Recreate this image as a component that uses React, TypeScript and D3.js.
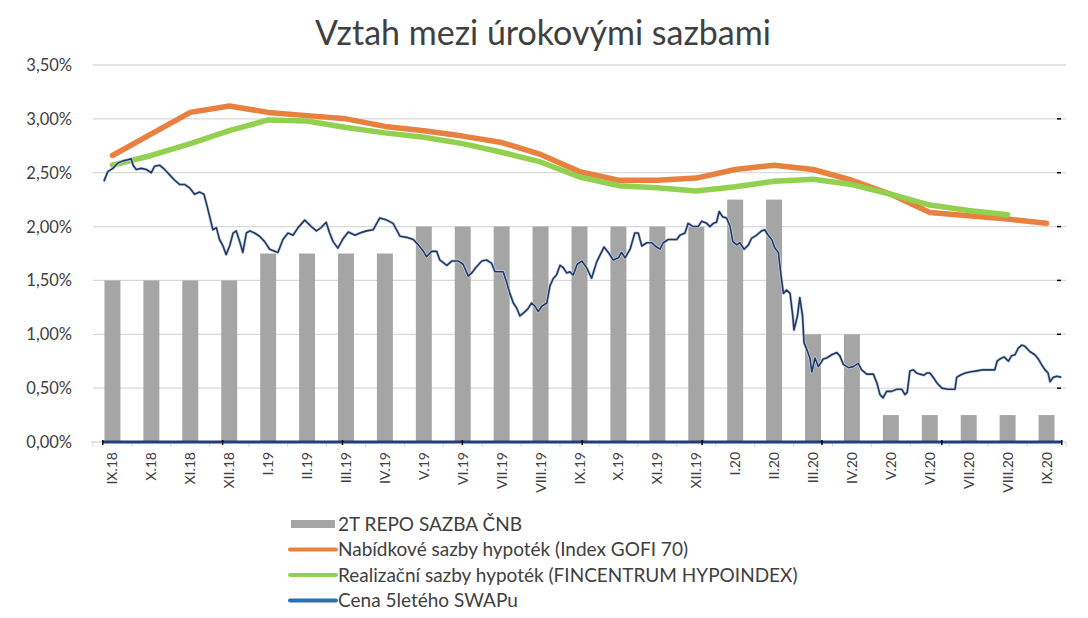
import React from "react";
import * as d3 from "d3";

const categories = ["IX.18","X.18","XI.18","XII.18","I.19","II.19","III.19","IV.19","V.19","VI.19","VII.19","VIII.19","IX.19","X.19","XI.19","XII.19","I.20","II.20","III.20","IV.20","V.20","VI.20","VII.20","VIII.20","IX.20"];
const repo = [1.5,1.5,1.5,1.5,1.75,1.75,1.75,1.75,2,2,2,2,2,2,2,2,2.25,2.25,1,1,0.25,0.25,0.25,0.25,0.25];
const gofi = [2.66,2.86,3.06,3.12,3.06,3.03,3.0,2.93,2.89,2.84,2.78,2.67,2.51,2.43,2.43,2.45,2.53,2.57,2.53,2.43,2.30,2.13,2.10,2.07,2.03];
const hypo: (number | null)[] = [2.57,2.66,2.77,2.89,2.99,2.98,2.92,2.87,2.83,2.77,2.69,2.60,2.46,2.38,2.36,2.33,2.37,2.42,2.44,2.39,2.30,2.20,2.15,2.11,null];
const swapZero = categories.map(() => 0);
const yTicks = [0,0.5,1,1.5,2,2.5,3,3.5];
// daily swap trace: [month position (0 = IX.18), value %]
const swapMonth = [-0.22,-0.12,0.01,0.14,0.27,0.40,0.48,0.53,0.61,0.74,0.87,1.00,1.08,1.21,1.34,1.47,1.60,1.73,1.86,1.98,2.11,2.24,2.35,2.41,2.50,2.58,2.67,2.75,2.84,2.92,3.01,3.10,3.18,3.27,3.35,3.44,3.53,3.65,3.78,3.91,4.04,4.17,4.25,4.38,4.51,4.64,4.77,4.94,5.11,5.24,5.36,5.49,5.58,5.67,5.79,5.93,6.06,6.23,6.36,6.53,6.70,6.79,6.87,7.05,7.21,7.30,7.39,7.56,7.73,7.86,7.99,8.07,8.20,8.33,8.41,8.59,8.72,8.89,9.01,9.14,9.23,9.36,9.49,9.61,9.74,9.83,9.96,10.04,10.13,10.21,10.30,10.39,10.47,10.60,10.68,10.77,10.86,10.94,11.03,11.16,11.24,11.33,11.41,11.50,11.58,11.67,11.75,11.84,11.94,12.06,12.18,12.31,12.44,12.52,12.63,12.74,12.87,13.00,13.08,13.17,13.30,13.42,13.51,13.60,13.73,13.85,13.98,14.07,14.15,14.28,14.41,14.50,14.58,14.71,14.79,14.92,15.05,15.14,15.27,15.35,15.44,15.52,15.59,15.68,15.78,15.87,15.94,16.04,16.12,16.23,16.34,16.42,16.55,16.68,16.76,16.85,16.94,17.02,17.11,17.15,17.19,17.24,17.32,17.41,17.48,17.51,17.60,17.66,17.73,17.77,17.84,17.92,17.97,18.05,18.14,18.26,18.35,18.48,18.61,18.69,18.78,18.91,19.03,19.16,19.25,19.38,19.55,19.64,19.72,19.80,19.89,20.02,20.15,20.28,20.36,20.42,20.49,20.58,20.66,20.75,20.85,20.92,21.00,21.09,21.18,21.31,21.47,21.65,21.69,21.78,21.91,22.03,22.20,22.37,22.54,22.67,22.73,22.80,22.91,23.02,23.10,23.19,23.27,23.36,23.44,23.57,23.70,23.79,23.87,23.96,24.04,24.09,24.17,24.27,24.38];
const swapValue = [2.42,2.51,2.54,2.59,2.61,2.62,2.63,2.57,2.53,2.54,2.53,2.50,2.56,2.57,2.53,2.48,2.43,2.39,2.39,2.36,2.30,2.32,2.30,2.22,2.09,1.97,1.99,1.88,1.82,1.74,1.82,1.94,1.96,1.86,1.76,1.94,1.96,1.94,1.91,1.86,1.79,1.77,1.76,1.88,1.94,1.92,1.99,2.06,2.00,1.96,1.99,2.04,1.94,1.86,1.80,1.89,1.95,1.92,1.94,1.96,1.97,2.03,2.08,2.06,2.03,1.97,1.91,1.90,1.88,1.83,1.77,1.72,1.77,1.77,1.69,1.64,1.68,1.68,1.65,1.54,1.57,1.63,1.68,1.69,1.66,1.58,1.58,1.58,1.48,1.38,1.29,1.24,1.17,1.21,1.24,1.29,1.26,1.21,1.26,1.29,1.45,1.52,1.55,1.64,1.62,1.57,1.58,1.55,1.65,1.68,1.62,1.52,1.67,1.73,1.81,1.76,1.69,1.71,1.76,1.71,1.79,1.94,1.94,1.82,1.85,1.85,1.81,1.79,1.85,1.88,1.88,1.88,1.92,1.94,2.03,2.00,2.00,2.05,2.03,2.00,2.03,2.04,2.14,2.09,2.08,2.00,1.86,1.83,1.85,1.79,1.83,1.89,1.92,1.96,1.97,1.92,1.88,1.80,1.76,1.63,1.51,1.38,1.41,1.38,1.17,1.04,1.17,1.34,1.17,0.92,0.86,0.78,0.65,0.78,0.70,0.77,0.78,0.81,0.83,0.80,0.72,0.69,0.70,0.73,0.67,0.63,0.63,0.55,0.44,0.41,0.47,0.47,0.49,0.49,0.44,0.46,0.66,0.67,0.64,0.63,0.62,0.64,0.64,0.60,0.55,0.50,0.49,0.49,0.60,0.62,0.64,0.65,0.66,0.67,0.67,0.67,0.75,0.77,0.79,0.75,0.80,0.81,0.87,0.90,0.89,0.84,0.81,0.77,0.72,0.67,0.64,0.56,0.60,0.61,0.60];
const dateTicks = [-0.25,2.83,5.91,8.99,12.07,15.15,18.23,21.31,24.39];

const legendItems = [
  { label: "2T REPO SAZBA ČNB", color: "#a5a5a5", kind: "rect" },
  { label: "Nabídkové sazby hypoték (Index GOFI 70)", color: "#e8803f", kind: "line" },
  { label: "Realizační sazby hypoték (FINCENTRUM HYPOINDEX)", color: "#92d050", kind: "line" },
  { label: "Cena 5letého SWAPu", color: "#2e6db4", kind: "line" },
];

export default function App() {
  const W = 1088, H = 618;
  const left = 93, right = 1066, top = 65, bottom = 442;
  const font = "Lato, 'Open Sans', sans-serif";
  const x = d3.scaleBand<string>().domain(categories).range([left, right]).paddingInner(0.59).paddingOuter(0.295);
  const step = x.step();
  const cx = (i: number) => left + step * (i + 0.5);
  const y = d3.scaleLinear().domain([0, 3.5]).range([bottom, top]);
  const xm = d3.scaleLinear().domain([0, 24]).range([cx(0), cx(24)]);

  const catLine = d3.line<number | null>().defined((d) => d != null).x((_, i) => cx(i)).y((d) => y(d as number));
  const swapLine = d3.line<number>().x((_, i) => xm(swapMonth[i])).y((d) => y(d));
  const zeroLine = d3.line<number>().x((_, i) => xm(i === 0 ? -0.25 : i === swapZero.length - 1 ? 24.4 : i)).y((d) => y(d));

  return (
    <svg width={W} height={H} style={{ display: "block", position: "absolute", left: 0, top: 0, background: "#fff" }} fontFamily={font}>
      <rect x={0} y={0} width={W} height={H} fill="#fff" />
      <text x={543} y={45} textAnchor="middle" fontSize={34} fill="#404040">Vztah mezi úrokovými sazbami</text>
      {yTicks.map((t) => (
        <g key={t}>
          {t > 0 && <line x1={left} x2={right} y1={y(t)} y2={y(t)} stroke="#d9d9d9" strokeWidth={1.3} />}
          <text x={72} y={y(t) + 6} textAnchor="end" fontSize={16.5} fill="#404040">{d3.format(".2f")(t).replace(".", ",") + "%"}</text>
          {t > 0 && t < 3.5 && <line x1={1057} x2={1061} y1={y(t)} y2={y(t)} stroke="#000" strokeWidth={1.5} />}
        </g>
      ))}
      {repo.map((v, i) => (
        <rect key={i} x={x(categories[i])} y={y(v)} width={x.bandwidth()} height={y(0) - y(v)} fill="#a5a5a5" />
      ))}
      <line x1={left - 2} x2={right} y1={bottom} y2={bottom} stroke="#d9d9d9" strokeWidth={1.3} />
      {categories.map((c, i) => (
        <line key={c} x1={left + step * i} x2={left + step * i} y1={bottom} y2={bottom + 5} stroke="#d9d9d9" strokeWidth={1} />
      ))}
      <line x1={right} x2={right} y1={bottom} y2={bottom + 5} stroke="#d9d9d9" />
      <path d={zeroLine(swapZero) || ""} fill="none" stroke="#1f3f7a" strokeWidth={3} />
      {dateTicks.map((m) => (
        <line key={m} x1={xm(m)} x2={xm(m)} y1={bottom - 2} y2={bottom + 3} stroke="#000" strokeWidth={1.5} />
      ))}
      <path d={catLine(gofi) || ""} fill="none" stroke="#e8803f" strokeWidth={5.5} strokeLinejoin="round" strokeLinecap="round" />
      <path d={catLine(hypo) || ""} fill="none" stroke="#92d050" strokeWidth={5.5} strokeLinejoin="round" strokeLinecap="round" />
      <path d={swapLine(swapValue) || ""} fill="none" stroke="#c9d3e3" strokeWidth={3} strokeLinejoin="round" />
      <path d={swapLine(swapValue) || ""} fill="none" stroke="#1f3864" strokeWidth={1.6} strokeLinejoin="round" />
      {categories.map((c, i) => (
        <text key={c} transform={`translate(${cx(i) + 5},${bottom + 10}) rotate(-90)`} textAnchor="end" fontSize={14} fill="#404040">{c}</text>
      ))}
      {legendItems.map((it, i) => {
        const ly = 524 + i * 25.5;
        return (
          <g key={it.label}>
            {it.kind === "rect" ? (
              <rect x={291} y={ly - 4} width={44} height={8} fill={it.color} />
            ) : (
              <line x1={290} x2={336} y1={ly} y2={ly} stroke={it.color} strokeWidth={4} strokeLinecap="round" />
            )}
            <text x={338} y={ly + 6.5} fontSize={19} fill="#404040">{it.label}</text>
          </g>
        );
      })}
    </svg>
  );
}
